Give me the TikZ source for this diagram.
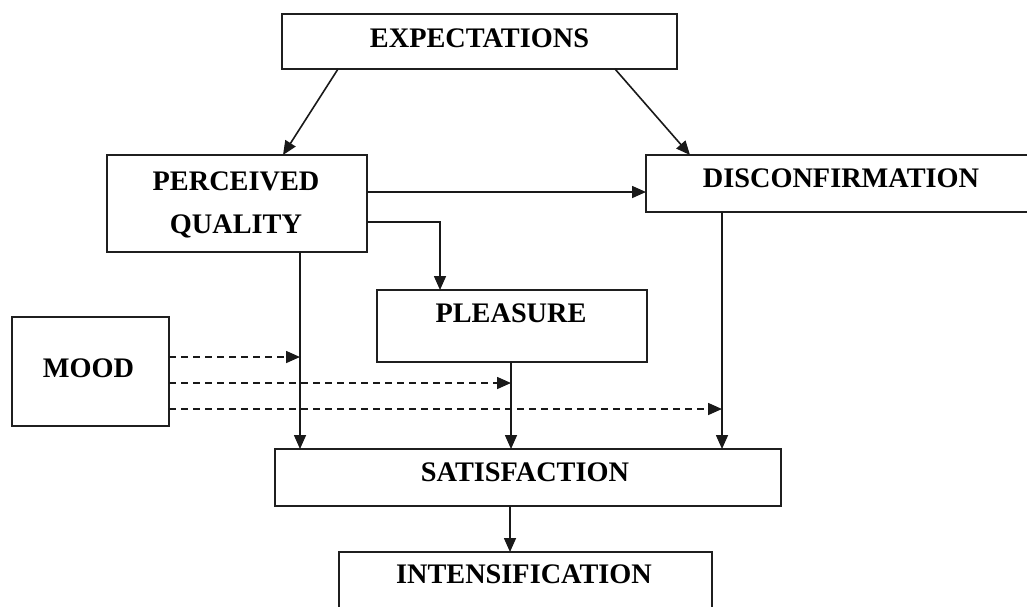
\documentclass[tikz,border=0pt]{standalone}
\usepackage{fontspec}
\setmainfont{Liberation Serif}
\usetikzlibrary{arrows.meta,positioning,calc}
\begin{document}
\begin{tikzpicture}[x=1pt,y=-1pt,
  box/.style={draw=black!88, line width=1.8pt, rectangle, inner sep=0pt, outer sep=0pt},
  lbl/.style={anchor=base, inner sep=0pt, font=\fontsize{28.3}{33}\selectfont\bfseries, text=black},
  conn/.style={draw=black!90, line width=1.6pt, -{Triangle[length=14pt,width=12pt]}},
  dconn/.style={conn, dash pattern=on 7pt off 5pt}]
\useasboundingbox (0,0) rectangle (1027,606);
\clip (0,0) rectangle (1027,606);
% boxes
\node[box, minimum width=395pt, minimum height=55pt] (exp) at (479.5,41.5) {};
\node[box, minimum width=260pt, minimum height=97pt] (pq) at (237,203.5) {};
\node[box, minimum width=390pt, minimum height=57pt] (dis) at (841,183.5) {};
\node[box, minimum width=270pt, minimum height=72pt] (ple) at (512,326) {};
\node[box, minimum width=157pt, minimum height=109pt] (mood) at (90.5,371.5) {};
\node[box, minimum width=506pt, minimum height=57pt] (sat) at (528,477.5) {};
\node[box, minimum width=373pt, minimum height=80pt] (int) at (525.5,592) {};
% labels
\node[lbl] (tExp) at (479.5,47) {EXPECTATIONS};
\node[lbl] (tPq1) at (236,190) {PERCEIVED};
\node[lbl] (tPq2) at (236,233) {QUALITY};
\node[lbl] (tDis) at (841,187) {DISCONFIRMATION};
\node[lbl] (tPle) at (511,322) {PLEASURE};
\node[lbl] (tMood) at (88.5,377) {MOOD};
\node[lbl] (tSat) at (525,481) {SATISFACTION};
\node[lbl] (tInt) at (524,583) {INTENSIFICATION};
% helper coordinates
\coordinate (pqdown) at ([xshift=193pt]pq.south west);
\coordinate (pledown) at ([xshift=-1pt]ple.south);
\coordinate (disdown) at ([xshift=76pt]dis.south west);
\coordinate (satdown) at ([xshift=235pt]sat.south west);
\coordinate (m1) at ([yshift=-40pt]mood.north east);
\coordinate (m2) at ([yshift=-66pt]mood.north east);
\coordinate (m3) at ([yshift=-92pt]mood.north east);
% connectors
\draw[conn] ([xshift=56pt]exp.south west) -- ([xshift=176pt]pq.north west);
\draw[conn] ([xshift=-62pt]exp.south east) -- ([xshift=44pt]dis.north west);
\draw[conn] ([yshift=-37pt]pq.north east) -- ([yshift=-37pt]pq.north east -| dis.west);
\draw[conn] ([yshift=30pt]pq.south east) -| ([xshift=63pt]ple.north west);
\draw[conn] (pqdown) -- (pqdown |- sat.north);
\draw[conn] (pledown) -- (pledown |- sat.north);
\draw[conn] (disdown) -- (disdown |- sat.north);
\draw[conn] (satdown) -- (satdown |- int.north);
\draw[dconn] (m1) -- (m1 -| pqdown);
\draw[dconn] (m2) -- (m2 -| pledown);
\draw[dconn] (m3) -- (m3 -| disdown);
\end{tikzpicture}
\end{document}
